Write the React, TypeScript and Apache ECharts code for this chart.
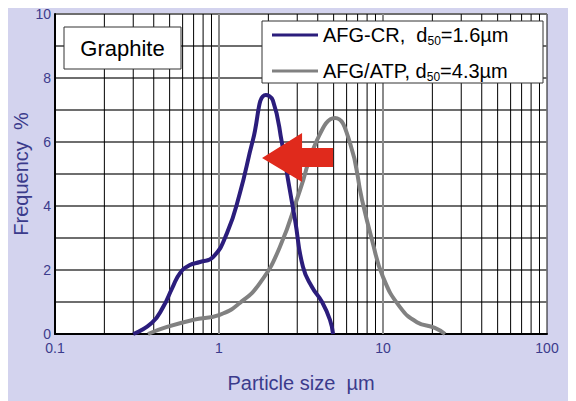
import React, { useEffect, useRef } from "react";
import * as echarts from "echarts";

// AFG-CR (blue)
const crX = [0.3, 0.39, 0.456, 0.52, 0.578, 0.66, 0.766, 0.919, 1.12, 1.34, 1.61, 1.93, 2.13, 2.42, 2.64, 2.91, 3.25, 3.69, 4.25, 4.75, 4.96];
const crY = [0, 0.35, 0.84, 1.45, 1.9, 2.15, 2.25, 2.4, 3.16, 4.4, 6.06, 7.47, 7.3, 5.97, 4.8, 3.56, 2.1, 1.47, 1.0, 0.44, 0];
// AFG/ATP (gray)
const atpX = [0.369, 0.482, 0.694, 1.01, 1.34, 1.78, 2.35, 3.12, 3.96, 5.1, 6.29, 7.45, 8.57, 10.0, 12.7, 16.1, 20.7, 23.9];
const atpY = [0, 0.22, 0.44, 0.6, 0.97, 1.6, 2.72, 4.5, 6.06, 6.75, 5.97, 4.19, 2.94, 1.78, 0.84, 0.37, 0.19, 0];

const seriesNames = ["AFG-CR", "AFG/ATP"];
const legendLabels = [
  ["AFG-CR,  d", "50", "=1.6µm"],
  ["AFG/ATP, d", "50", "=4.3µm"],
];
const minorGridX = [0.2, 0.3, 0.4, 0.5, 0.6, 0.7, 0.8, 0.9, 2, 3, 4, 5, 6, 7, 8, 9, 20, 30, 40, 50, 60, 70, 80, 90];
const majorGridX = [1, 10];
const xTicks = [0.1, 1, 10, 100];

// arrow in data coordinates (x: µm, y: %)
const arrowPts: [number, number][] = [
  [1.83, 5.5],
  [3.21, 6.28],
  [3.21, 5.81],
  [4.96, 5.81],
  [4.96, 5.22],
  [3.21, 5.22],
  [3.21, 4.75],
];

const BG = "#d3d3ee";
const TXT = "#3b3b8c";
const BLUE = "#2b1d7c";
const GRAY = "#818181";
const FONT = "Liberation Sans, Arial, sans-serif";

export default function App() {
  const ref = useRef<HTMLDivElement>(null);
  useEffect(() => {
    if (!ref.current) return;
    const chart = echarts.init(ref.current, undefined, { renderer: "svg" });
    const gridData = [
      ...minorGridX.map((v) => [v, 0]),
      ...majorGridX.map((v) => [v, 1]),
    ];
    chart.setOption({
      animation: false,
      textStyle: { fontFamily: FONT },
      grid: {
        left: 55,
        top: 14,
        right: 29,
        bottom: 67,
        containLabel: false,
        outerBoundsMode: "none",
        show: true,
        backgroundColor: "#ffffff",
        borderColor: "#111111",
        borderWidth: 1,
      },
      legend: {
        orient: "vertical",
        left: 272,
        top: 25,
        padding: 0,
        itemGap: 14,
        icon: "rect",
        itemWidth: 46,
        itemHeight: 3,
        selectedMode: false,
        z: 60,
        data: seriesNames,
        formatter: (name: string) => {
          const i = seriesNames.indexOf(name);
          const l = legendLabels[i];
          return `{a|${l[0]}}{b|${l[1]}}{a|${l[2]}}`;
        },
        textStyle: {
          fontFamily: FONT,
          color: "#000",
          rich: {
            a: { fontSize: 20, lineHeight: 24, color: "#000", fontFamily: FONT },
            b: { fontSize: 12, lineHeight: 12, verticalAlign: "bottom", color: "#000", fontFamily: FONT },
          },
        },
      },
      xAxis: {
        type: "log",
        logBase: 10,
        min: 0.1,
        max: 100,
        name: "Particle size  µm",
        nameLocation: "middle",
        nameGap: 39,
        nameMoveOverlap: false,
        nameTextStyle: { fontSize: 20, color: TXT, fontFamily: FONT },
        axisLine: { show: true, lineStyle: { color: "#000", width: 2 } },
        axisTick: { show: false },
        splitLine: { show: false },
        axisLabel: {
          fontSize: 14,
          color: TXT,
          margin: 7,
          fontFamily: FONT,
          formatter: (v: number) => {
            const t = xTicks.find((k) => Math.abs(k - v) / k < 1e-6);
            return t === undefined ? "" : String(t);
          },
        },
      },
      yAxis: {
        type: "value",
        min: 0,
        max: 10,
        interval: 1,
        name: "Frequency  %",
        nameLocation: "middle",
        nameGap: 24,
        nameMoveOverlap: false,
        nameTextStyle: { fontSize: 20, color: TXT, fontFamily: FONT },
        axisLine: { show: true, lineStyle: { color: "#000", width: 2 } },
        axisTick: { show: false },
        splitLine: { show: true, lineStyle: { color: "#6e6e6e", width: 2 } },
        axisLabel: {
          fontSize: 14,
          color: TXT,
          margin: 4,
          fontFamily: FONT,
          formatter: (v: number) => (v % 2 === 0 ? String(v) : ""),
        },
      },
      series: [
        {
          type: "custom",
          name: "grid",
          silent: true,
          z: 1,
          data: gridData,
          renderItem: (params: any, api: any) => {
            const x = api.value(0);
            const major = api.value(1) === 1;
            const p0 = api.coord([x, 0]);
            const p1 = api.coord([x, 10]);
            return {
              type: "line",
              shape: { x1: p0[0], y1: p0[1], x2: p1[0], y2: p1[1] },
              style: { stroke: major ? "#8a8a8a" : "#000", lineWidth: major ? 2 : 1 },
            };
          },
        },
        {
          type: "line",
          name: seriesNames[0],
          data: crX.map((x, i) => [x, crY[i]]),
          smooth: 0.5,
          showSymbol: false,
          symbol: "none",
          z: 10,
          color: BLUE,
          lineStyle: { color: BLUE, width: 4 },
        },
        {
          type: "line",
          name: seriesNames[1],
          data: atpX.map((x, i) => [x, atpY[i]]),
          smooth: 0.5,
          showSymbol: false,
          symbol: "none",
          z: 9,
          color: GRAY,
          lineStyle: { color: GRAY, width: 4 },
        },
      ],
    });
    const pts = arrowPts.map((p) => chart.convertToPixel({ gridIndex: 0 }, p) as number[]);
    chart.setOption({
      graphic: [
        {
          type: "polygon",
          z: 40,
          shape: { points: pts },
          style: { fill: "#e02a1c" },
        },
        {
          type: "rect",
          z: 50,
          shape: { x: 64, y: 27, width: 117, height: 42 },
          style: { fill: "#fff", stroke: "#333", lineWidth: 1 },
        },
        {
          type: "text",
          z: 51,
          x: 122.5,
          y: 48,
          style: {
            text: "Graphite",
            fontSize: 22,
            fontFamily: FONT,
            fill: "#000",
            align: "center",
            verticalAlign: "middle",
          },
        },
        {
          type: "rect",
          z: 50,
          shape: { x: 262, y: 21, width: 281, height: 62 },
          style: { fill: "#fff", stroke: "#333", lineWidth: 1 },
        },
      ],
    });
    return () => chart.dispose();
  }, []);
  return (
    <div style={{ position: "relative", width: 568, height: 393, background: BG }}>
      <div ref={ref} style={{ position: "absolute", left: -8, top: -8, width: 576, height: 401 }} />
    </div>
  );
}
